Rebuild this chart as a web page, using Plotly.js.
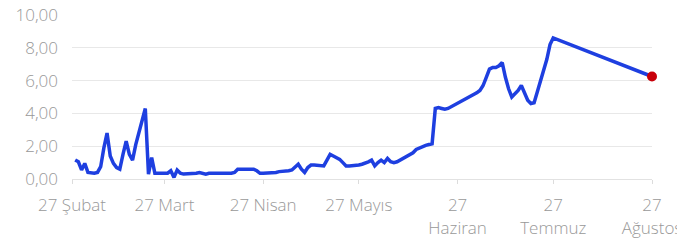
<!DOCTYPE html>
<html>
<head>
<meta charset="utf-8">
<script src="https://cdn.plot.ly/plotly-3.0.1.min.js"></script>
<style>html,body{margin:0;padding:0;background:#fff;}#chart{width:677px;height:251px;}</style>
</head>
<body>
<div id="chart"></div>
<script>
const febDates = ['2020-02-28','2020-02-29'];
const febValues = [1.16, 1.05];
const marDates = ['2020-03-01','2020-03-02','2020-03-03','2020-03-04','2020-03-05','2020-03-06','2020-03-07','2020-03-08','2020-03-09','2020-03-10','2020-03-11','2020-03-12','2020-03-13','2020-03-14','2020-03-15','2020-03-16','2020-03-17','2020-03-18','2020-03-19','2020-03-20','2020-03-21','2020-03-22','2020-03-23','2020-03-24','2020-03-25','2020-03-26','2020-03-27','2020-03-28','2020-03-29','2020-03-30','2020-03-31'];
const marValues = [0.55,0.95,0.4,0.35,0.35,0.4,0.75,1.9,2.8,1.4,0.95,0.7,0.6,1.5,2.3,1.5,1.15,2.1,2.9,3.6,4.3,0.3,1.3,0.35,0.35,0.4,0.35,0.35,0.5,0.1,0.55];
const aprDates = ['2020-04-01','2020-04-02','2020-04-03','2020-04-04','2020-04-05','2020-04-06','2020-04-07','2020-04-08','2020-04-09','2020-04-10','2020-04-11','2020-04-12','2020-04-13','2020-04-14','2020-04-15','2020-04-16','2020-04-17','2020-04-18','2020-04-19','2020-04-20','2020-04-21','2020-04-22','2020-04-23','2020-04-24','2020-04-25','2020-04-26','2020-04-27','2020-04-28','2020-04-29','2020-04-30'];
const aprValues = [0.35,0.3,0.3,0.3,0.3,0.35,0.4,0.35,0.3,0.35,0.35,0.3,0.35,0.3,0.35,0.3,0.35,0.4,0.6,0.6,0.6,0.65,0.6,0.6,0.5,0.35,0.35,0.35,0.4,0.4];
const mayDates = ['2020-05-01','2020-05-02','2020-05-03','2020-05-04','2020-05-05','2020-05-06','2020-05-07','2020-05-08','2020-05-09','2020-05-10','2020-05-11','2020-05-12','2020-05-13','2020-05-14','2020-05-15','2020-05-16','2020-05-17','2020-05-18','2020-05-19','2020-05-20','2020-05-21','2020-05-22','2020-05-23','2020-05-24','2020-05-25','2020-05-26','2020-05-27','2020-05-28','2020-05-29','2020-05-30','2020-05-31'];
const mayValues = [0.4,0.45,0.45,0.45,0.5,0.55,0.7,0.9,0.6,0.4,0.7,0.85,0.85,0.85,0.8,0.8,1.15,1.5,1.4,1.3,1.2,1.0,0.8,0.8,0.8,0.8,0.85,0.9,0.95,1.05,1.15];
const junDates = ['2020-06-01','2020-06-02','2020-06-03','2020-06-04','2020-06-05','2020-06-06','2020-06-07','2020-06-08','2020-06-09','2020-06-10','2020-06-11','2020-06-12','2020-06-13','2020-06-14','2020-06-15','2020-06-16','2020-06-17','2020-06-18','2020-06-19','2020-06-20','2020-06-21','2020-06-22','2020-06-23','2020-06-24','2020-06-25','2020-06-26','2020-06-27','2020-06-28','2020-06-29','2020-06-30'];
const junValues = [0.8,1.0,1.15,1.0,1.25,1.05,1.0,1.05,1.15,1.25,1.35,1.45,1.6,1.8,1.9,2.0,2.05,2.1,2.15,4.3,4.35,4.3,4.25,4.3,4.4,4.5,4.6,4.7,4.8,4.9];
const julDates = ['2020-07-01','2020-07-02','2020-07-03','2020-07-04','2020-07-05','2020-07-06','2020-07-07','2020-07-08','2020-07-09','2020-07-10','2020-07-11','2020-07-12','2020-07-13','2020-07-14','2020-07-15','2020-07-16','2020-07-17','2020-07-18','2020-07-19','2020-07-20','2020-07-21','2020-07-22','2020-07-23','2020-07-24','2020-07-25','2020-07-26','2020-07-27'];
const julValues = [5.0,5.1,5.25,5.4,5.7,6.2,6.7,6.8,6.8,6.9,7.1,6.2,5.5,5.0,5.2,5.4,5.7,5.3,4.8,4.6,4.65,5.3,6.0,6.6,7.3,8.2,8.6];
const augDates = ['2020-08-27'];
const augValues = [6.25];

const tickDates = ['2020-02-27','2020-03-27','2020-04-27','2020-05-27','2020-06-27','2020-07-27','2020-08-27'];
const tickLabels = ['27 Şubat','27 Mart','27 Nisan','27 Mayıs','27<br>Haziran','27<br>Temmuz','27<br>Ağustos'];
const yTicks = [0,2,4,6,8,10];

const dates = [].concat(febDates, marDates, aprDates, mayDates, junDates, julDates, augDates);
const values = [].concat(febValues, marValues, aprValues, mayValues, junValues, julValues, augValues);
const lastDate = dates[dates.length - 1];
const lastValue = values[values.length - 1];

const traces = [
  {x: dates, y: values, type: 'scatter', mode: 'lines',
   line: {color: '#1e3fe0', width: 3.5}, hoverinfo: 'skip'},
  {x: [lastDate], y: [lastValue], type: 'scatter', mode: 'markers',
   marker: {color: '#c8000a', size: 10}, hoverinfo: 'skip', cliponaxis: false}
];

const labelFont = {family: '"Open Sans", sans-serif', size: 17, color: '#999999', weight: 300};

const layout = {
  width: 677, height: 251,
  margin: {l: 72, r: 25, t: 15, b: 72},
  paper_bgcolor: '#fff', plot_bgcolor: '#fff',
  showlegend: false,
  separators: ',.',
  font: labelFont,
  xaxis: {
    type: 'date',
    range: ['2020-02-27', '2020-08-27'],
    tickmode: 'array', tickvals: tickDates, ticktext: tickLabels,
    showgrid: false, zeroline: false,
    showline: true, linecolor: '#e2e2e2', linewidth: 1,
    ticks: 'outside', ticklen: 4, tickcolor: '#dcdcdc',
    ticklabelstandoff: 7,
    ticklabeloverflow: 'allow',
    tickfont: labelFont,
    fixedrange: true
  },
  yaxis: {
    range: [0, 10],
    tickmode: 'array', tickvals: yTicks,
    tickformat: '.2f',
    showgrid: true, gridcolor: '#e8e8e8', gridwidth: 1,
    zeroline: false, showline: false,
    ticks: '', ticklabelstandoff: 13,
    tickfont: labelFont,
    fixedrange: true
  }
};

Plotly.newPlot('chart', traces, layout, {staticPlot: true, displayModeBar: false});
</script>
</body>
</html>
